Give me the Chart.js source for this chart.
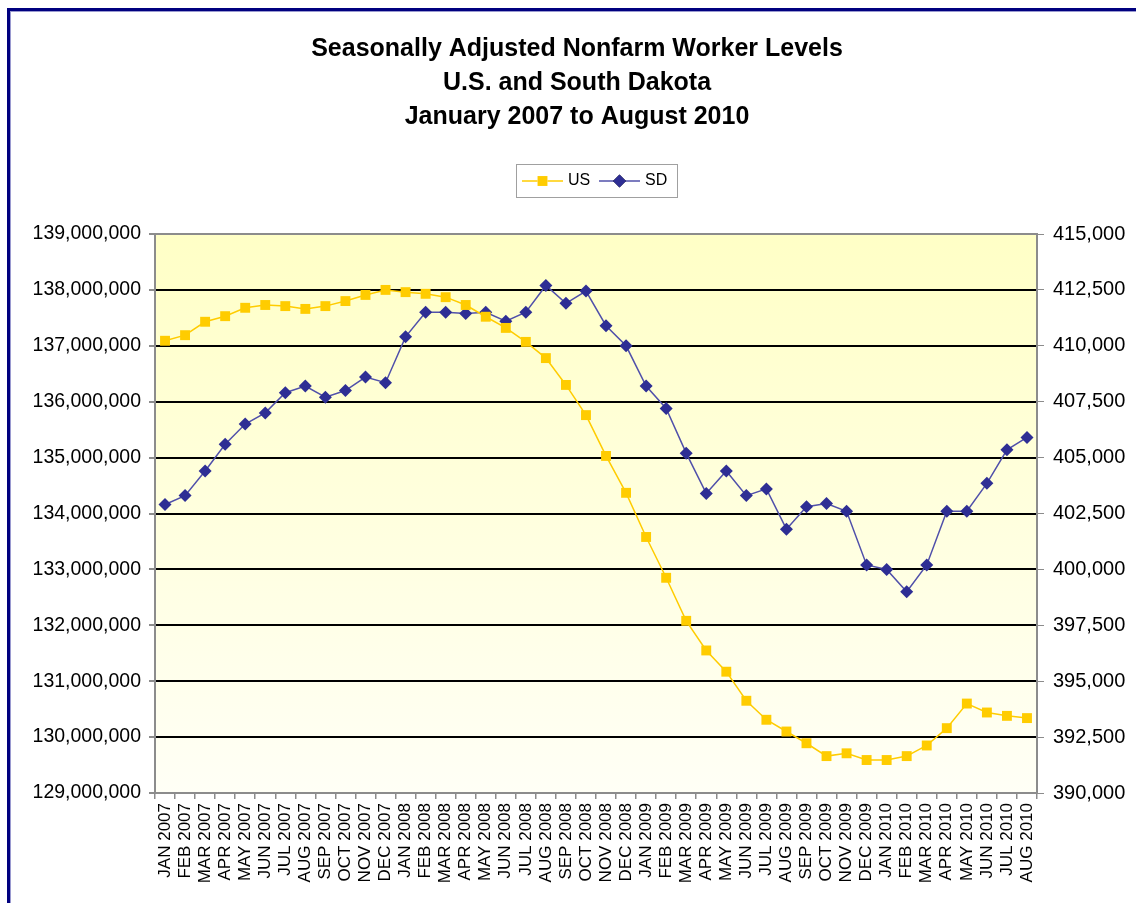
<!DOCTYPE html>
<html>
<head>
<meta charset="utf-8">
<script src="https://cdn.jsdelivr.net/npm/chart.js@4"></script>
<style>
  html, body { margin: 0; padding: 0; background: #ffffff; }
  #wrap { position: absolute; left: 0; top: 0; width: 1136px; height: 903px; }
</style>
</head>
<body>
<div id="wrap"><canvas id="c" width="1136" height="903"></canvas></div>
<script>
const TITLE_LINES = [
  "Seasonally Adjusted Nonfarm Worker Levels",
  "U.S. and South Dakota",
  "January 2007 to August 2010"
];

const MONTHS = [
  "JAN 2007","FEB 2007","MAR 2007","APR 2007","MAY 2007","JUN 2007","JUL 2007","AUG 2007","SEP 2007","OCT 2007","NOV 2007","DEC 2007",
  "JAN 2008","FEB 2008","MAR 2008","APR 2008","MAY 2008","JUN 2008","JUL 2008","AUG 2008","SEP 2008","OCT 2008","NOV 2008","DEC 2008",
  "JAN 2009","FEB 2009","MAR 2009","APR 2009","MAY 2009","JUN 2009","JUL 2009","AUG 2009","SEP 2009","OCT 2009","NOV 2009","DEC 2009",
  "JAN 2010","FEB 2010","MAR 2010","APR 2010","MAY 2010","JUN 2010","JUL 2010","AUG 2010"
];

const US = [
  137090000,137190000,137430000,137530000,137680000,137730000,137710000,137660000,137710000,137800000,137910000,138000000,
  137960000,137930000,137870000,137730000,137520000,137320000,137070000,136780000,136300000,135760000,135030000,134370000,
  133580000,132850000,132080000,131550000,131170000,130650000,130310000,130100000,129890000,129660000,129710000,129590000,
  129590000,129660000,129850000,130160000,130600000,130440000,130380000,130340000
];

const SD = [
  402900,403300,404400,405600,406500,407000,407900,408200,407700,408000,408600,408350,
  410400,411500,411500,411450,411500,411100,411500,412700,411900,412450,410900,410000,
  408200,407200,405200,403400,404400,403300,403600,401800,402800,402950,402600,400200,
  400000,399000,400200,402600,402600,403850,405350,405900
];

const US_AXIS = { min: 129000000, max: 139000000, step: 1000000 };
const SD_AXIS = { min: 390000, max: 415000, step: 2500 };

const FONT = "'Liberation Sans', Arial, Helvetica, sans-serif";

const decorPlugin = {
  id: 'decor',
  beforeDraw(chart) {
    const ctx = chart.ctx;
    const a = chart.chartArea;
    ctx.save();
    // outer navy frame (left and top edges visible)
    ctx.fillStyle = '#00007f';
    ctx.fillRect(7, 8, 1136 - 7, 3);
    ctx.fillRect(7, 8, 3, 903 - 8);
    ctx.fillStyle = '#9a9ad0';
    ctx.fillRect(10, 11, 1136 - 10, 1);
    ctx.fillRect(10, 11, 1, 903 - 11);
    // plot background gradient
    const g = ctx.createLinearGradient(0, a.top, 0, a.bottom);
    g.addColorStop(0, '#ffffc6');
    g.addColorStop(1, '#fffff6');
    ctx.fillStyle = g;
    ctx.fillRect(a.left, a.top, a.right - a.left, a.bottom - a.top);
    ctx.restore();
  },
  afterDraw(chart) {
    const ctx = chart.ctx;
    ctx.save();
    // title
    ctx.fillStyle = '#000';
    ctx.textAlign = 'center';
    ctx.textBaseline = 'middle';
    ctx.font = "bold 25px " + FONT;
    TITLE_LINES.forEach((t, i) => ctx.fillText(t, 577, 49 + i * 34));
    // legend
    const lx = 516, ly = 164, lw = 161, lh = 33;
    ctx.fillStyle = '#ffffff';
    ctx.fillRect(lx, ly, lw, lh);
    ctx.strokeStyle = '#a0a0a0';
    ctx.lineWidth = 1;
    ctx.strokeRect(lx + 0.5, ly + 0.5, lw, lh);
    const cy = ly + lh / 2 + 0.5;
    const items = [
      { x: 522, ds: chart.data.datasets[0] },
      { x: 599, ds: chart.data.datasets[1] }
    ];
    ctx.font = "16px " + FONT;
    ctx.textAlign = 'left';
    items.forEach(it => {
      const ds = it.ds;
      ctx.strokeStyle = ds.borderColor;
      ctx.lineWidth = 1.5;
      ctx.beginPath();
      ctx.moveTo(it.x, cy);
      ctx.lineTo(it.x + 41, cy);
      ctx.stroke();
      Chart.helpers.drawPoint(ctx, {
        pointStyle: ds.pointStyle,
        radius: ds.pointRadius,
        borderWidth: 0,
        rotation: 0
      }, it.x + 20.5, cy);
      ctx.fillStyle = ds.pointBackgroundColor;
      ctx.fill();
      ctx.fillStyle = '#000';
      ctx.fillText(ds.label, it.x + 46, cy);
    });
    ctx.restore();
  }
};

const fmt = v => Number(v).toLocaleString('en-US');

new Chart(document.getElementById('c'), {
  type: 'line',
  data: {
    labels: MONTHS,
    datasets: [
      {
        label: 'US', data: US, yAxisID: 'y',
        borderColor: '#ffcc00', backgroundColor: '#ffcc00',
        pointBackgroundColor: '#ffcc00', pointBorderColor: '#ffcc00',
        pointStyle: 'rect', pointRadius: 7, pointBorderWidth: 0,
        borderWidth: 1.5, tension: 0, fill: false
      },
      {
        label: 'SD', data: SD, yAxisID: 'y1',
        borderColor: '#5050aa', backgroundColor: '#2e2e94',
        pointBackgroundColor: '#2e2e94', pointBorderColor: '#2e2e94',
        pointStyle: 'rectRot', pointRadius: 6.5, pointBorderWidth: 0,
        borderWidth: 1.5, tension: 0, fill: false
      }
    ]
  },
  options: {
    responsive: false,
    animation: false,
    layout: { padding: { left: 0, right: 0, top: 234, bottom: 0 } },
    plugins: {
      legend: { display: false },
      title: { display: false },
      tooltip: { enabled: false }
    },
    scales: {
      x: {
        offset: true,
        grid: { offset: true, drawOnChartArea: false, drawTicks: true, tickLength: 6, tickColor: '#8c8c8c', color: '#8c8c8c', lineWidth: 1.5 },
        border: { color: '#8c8c8c', width: 2 },
        ticks: { autoSkip: false, minRotation: 90, maxRotation: 90, padding: 4, color: '#000', font: { family: FONT, size: 17 } },
        afterFit(s) { s.height = 110; }
      },
      y: {
        position: 'left',
        min: US_AXIS.min, max: US_AXIS.max,
        ticks: { stepSize: US_AXIS.step, padding: 8, color: '#000', font: { family: FONT, size: 19.5 }, callback: v => fmt(v) },
        grid: {
          drawTicks: true, tickLength: 6, tickColor: '#8c8c8c',
          lineWidth: 2,
          color: c => (c.tick && c.tick.value === US_AXIS.max) ? '#8c8c8c' : (c.tick && c.tick.value === US_AXIS.min ? 'rgba(0,0,0,0)' : '#000000')
        },
        border: { color: '#8c8c8c', width: 2 },
        afterFit(s) { s.width = 155; }
      },
      y1: {
        position: 'right',
        min: SD_AXIS.min, max: SD_AXIS.max,
        ticks: { stepSize: SD_AXIS.step, padding: 9, color: '#000', font: { family: FONT, size: 20 }, callback: v => fmt(v) },
        grid: { drawOnChartArea: false, drawTicks: true, tickLength: 7, tickColor: '#8c8c8c', color: '#8c8c8c' },
        border: { color: '#8c8c8c', width: 2 },
        afterFit(s) { s.width = 99; }
      }
    }
  },
  plugins: [decorPlugin]
});
</script>
</body>
</html>
